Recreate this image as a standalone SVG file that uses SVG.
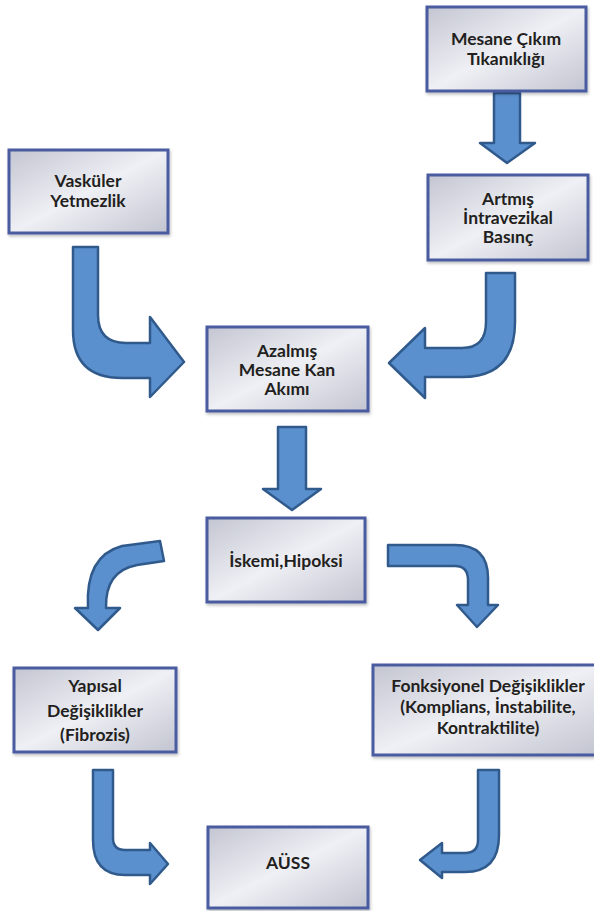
<svg xmlns="http://www.w3.org/2000/svg" width="594" height="911" viewBox="0 0 594 911">
<defs>
<linearGradient id="bg" x1="0" y1="0" x2="1" y2="1">
<stop offset="0" stop-color="#c3c5d1"/>
<stop offset="0.5" stop-color="#eff0f5"/>
<stop offset="1" stop-color="#c2c4d0"/>
</linearGradient>
<filter id="sh" x="-10%" y="-10%" width="120%" height="130%">
<feDropShadow dx="1" dy="2" stdDeviation="1.5" flood-color="#000" flood-opacity="0.25"/>
</filter>
</defs>
<style>
.box{fill:url(#bg);stroke:#4a5ba0;stroke-width:3;filter:url(#sh)}
.t{font-family:Lato,"Open Sans","Liberation Sans",sans-serif;font-weight:bold;font-size:17.5px;fill:#231f20;text-anchor:middle}
.ar{fill:#5b90cf;stroke:#305a8c;stroke-width:2.5;stroke-linejoin:round}
</style>
<rect width="594" height="911" fill="#fff"/>
<g id="connectors">
<path class="ar" d="M494,93 L520,93 L520,143 L535,143 L507,163 L480,143 L494,143 Z"/>
<path class="ar" d="M278,427 L306,427 L306,489 L321,489 L292,510 L263,489 L278,489 Z"/>
<path class="ar" d="M73,247 L98,247 L98,315 Q98,343 126,343 L150,343 L150,317 L184,362 L150,397 L150,378 L122,378 Q73,378 73,330 Z"/>
<path class="ar" d="M486,273 L515,273 L515,322 Q515,377 462,377 L425,377 L425,398 L389,363 L425,328 L425,348 L462,348 Q486,348 486,322 Z"/>
<path class="ar" d="M160,541 L164,561 L137,565 Q105,571 106,608 L120,608 L98,630 L75,608 L88,608 Q85,556 122,546 Z"/>
<path class="ar" d="M388,545 L455,545 Q488,545 488,578 L488,605 L498,605 L477,627 L457,605 L468,605 L468,580 Q468,566 455,566 L388,566 Z"/>
<path class="ar" d="M93,770 L113,770 L113,838 Q113,850 125,850 L150,850 L150,843 L168,864 L150,884 L150,875 L125,875 Q93,875 93,840 Z"/>
<path class="ar" d="M478,770 L499,770 L499,835 Q499,872 465,872 L442,872 L442,878 L420,860 L442,843 L442,853 L465,853 Q478,853 478,840 Z"/>
</g>
<g id="n1"><rect class="box" x="427" y="7" width="159" height="84"/>
<text class="t" x="506" y="45">Mesane Çıkım</text><text class="t" x="506" y="65">Tıkanıklığı</text></g>
<g id="n2"><rect class="box" x="428" y="175" width="160" height="85"/>
<text class="t" x="508" y="205">Artmış</text><text class="t" x="508" y="224">İntravezikal</text><text class="t" x="508" y="243">Basınç</text></g>
<g id="n3"><rect class="box" x="9" y="150" width="159" height="83"/>
<text class="t" x="88" y="187">Vasküler</text><text class="t" x="88" y="207">Yetmezlik</text></g>
<g id="n4"><rect class="box" x="207" y="327" width="161" height="84"/>
<text class="t" x="287" y="357">Azalmış</text><text class="t" x="287" y="376">Mesane Kan</text><text class="t" x="287" y="395">Akımı</text></g>
<g id="n5"><rect class="box" x="207" y="518" width="158" height="84"/>
<text class="t" x="286" y="567">İskemi,Hipoksi</text></g>
<g id="n6"><rect class="box" x="14" y="668" width="162" height="84"/>
<text class="t" x="95" y="692">Yapısal</text><text class="t" x="95" y="717">Değişiklikler</text><text class="t" x="95" y="741">(Fibrozis)</text></g>
<g id="n7"><rect class="box" x="373" y="665" width="224" height="90"/>
<text class="t" x="488" y="692">Fonksiyonel Değişiklikler</text><text class="t" x="488" y="713">(Komplians, İnstabilite,</text><text class="t" x="488" y="734">Kontraktilite)</text></g>
<g id="n8"><rect class="box" x="208" y="827" width="160" height="81"/>
<text class="t" x="288" y="869">AÜSS</text></g>
</svg>
